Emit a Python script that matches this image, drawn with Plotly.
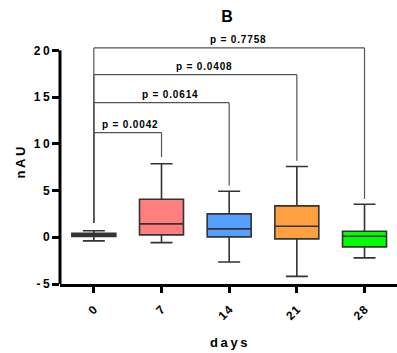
import plotly.graph_objects as go

# ---- data ----
days = ["0", "7", "14", "21", "28"]
q1 = [0.08, 0.26, 0.04, -0.17, -1.03]
median = [0.26, 1.43, 0.90, 1.18, 0.11]
q3 = [0.43, 4.07, 2.50, 3.36, 0.64]
lower = [-0.39, -0.57, -2.64, -4.18, -2.21]
upper = [0.69, 7.86, 4.93, 7.58, 3.54]
colors = ["#8c8c8c", "#ff7f7f", "#559fff", "#ffa040", "#00ff00"]

y_ticks = [-5, 0, 5, 10, 15, 20]
y_ticktext = ["-\u20095", "0", "5", "1\u20090", "1\u20095", "2\u20090"]

comp_to = [1, 2, 3, 4]
p_values = ["0.0042", "0.0614", "0.0408", "0.7758"]
bracket_y = [11.19, 14.4, 17.4, 20.26]
leg_bottom = [8.57, 5.54, 8.2, 4.1]
left_leg_bottom = 1.54

HS = "\u200a"

fig = go.Figure()
for i, d in enumerate(days):
    fig.add_trace(go.Box(
        x=[i], q1=[q1[i]], median=[median[i]], q3=[q3[i]],
        lowerfence=[lower[i]], upperfence=[upper[i]],
        fillcolor=colors[i], line=dict(color="#333333", width=1.6),
        width=0.65, whiskerwidth=0.5, boxpoints=False, showlegend=False,
        hoverinfo="skip",
    ))

shapes = []
annotations = []
# y axis line drawn only from -5 to 20
shapes.append(dict(type="line", xref="paper", yref="y", x0=0, x1=0, y0=-5, y1=20,
                   line=dict(color="black", width=3)))
for k, j in enumerate(comp_to):
    yb = bracket_y[k]
    shapes.append(dict(type="line", xref="x", yref="y", x0=0, x1=j, y0=yb, y1=yb,
                       line=dict(color="#555555", width=1.2)))
    shapes.append(dict(type="line", xref="x", yref="y", x0=j, x1=j, y0=yb, y1=leg_bottom[k],
                       line=dict(color="#555555", width=1.2)))
    shapes.append(dict(type="line", xref="x", yref="y", x0=0, x1=0, y0=yb, y1=left_leg_bottom,
                       line=dict(color="#555555", width=1.2)))
    txt = "p = " + p_values[k]
    txt = HS.join(list(txt))
    annotations.append(dict(x=j / 2, y=yb, xref="x", yref="y", text="<b>" + txt + "</b>",
                            showarrow=False, xanchor="center", yanchor="bottom",
                            xshift=[2, 8, 9, 9][k], yshift=1,
                            font=dict(size=10, color="black", family="Liberation Sans, Arial")))

annotations.append(dict(x=(20 - 60) / 337, y=0.5, xref="paper", yref="paper",
                        text="<b>n\u2009A\u2009U</b>", textangle=-90, showarrow=False,
                        xanchor="center", yanchor="middle",
                        font=dict(size=13, color="black", family="Liberation Sans, Arial")))
annotations.append(dict(x=0.5, y=-(342 - 284) / 243, xref="paper", yref="paper",
                        text="<b>d\u2009a\u2009y\u2009s</b>", showarrow=False,
                        xanchor="center", yanchor="middle",
                        font=dict(size=13, color="black", family="Liberation Sans, Arial")))

fig.update_layout(
    width=397, height=353,
    margin=dict(l=60, r=0, t=41, b=69, autoexpand=False),
    plot_bgcolor="white", paper_bgcolor="white",
    font=dict(family="Liberation Sans, Arial", color="black"),
    title=dict(text="<b>B</b>", x=(227) / 397, xanchor="center", y=1 - 16 / 353,
               yanchor="middle", font=dict(size=16, color="black")),
    shapes=shapes, annotations=annotations,
    xaxis=dict(range=[-0.5, 4.48], tickvals=list(range(len(days))),
               ticktext=["<b>" + HS.join(list(d)) + "</b>" for d in days],
               tickangle=-45, showline=True, linecolor="black", linewidth=3,
               ticks="outside", ticklen=6, tickwidth=2.5, tickcolor="black",
               ticklabelstandoff=5,
               showgrid=False, zeroline=False, automargin=False,
               tickfont=dict(size=12, color="black")),
    yaxis=dict(range=[-5, 21], tickvals=y_ticks,
               ticktext=["<b>" + t + "</b>" for t in y_ticktext],
               showline=False, ticks="outside", ticklen=7, tickwidth=2.5, tickcolor="black",
               showgrid=False, zeroline=False, automargin=False,
               tickfont=dict(size=12, color="black")),
)

fig.write_html("out.html", config={"displayModeBar": False},
               post_script="document.body.style.margin='0';")
